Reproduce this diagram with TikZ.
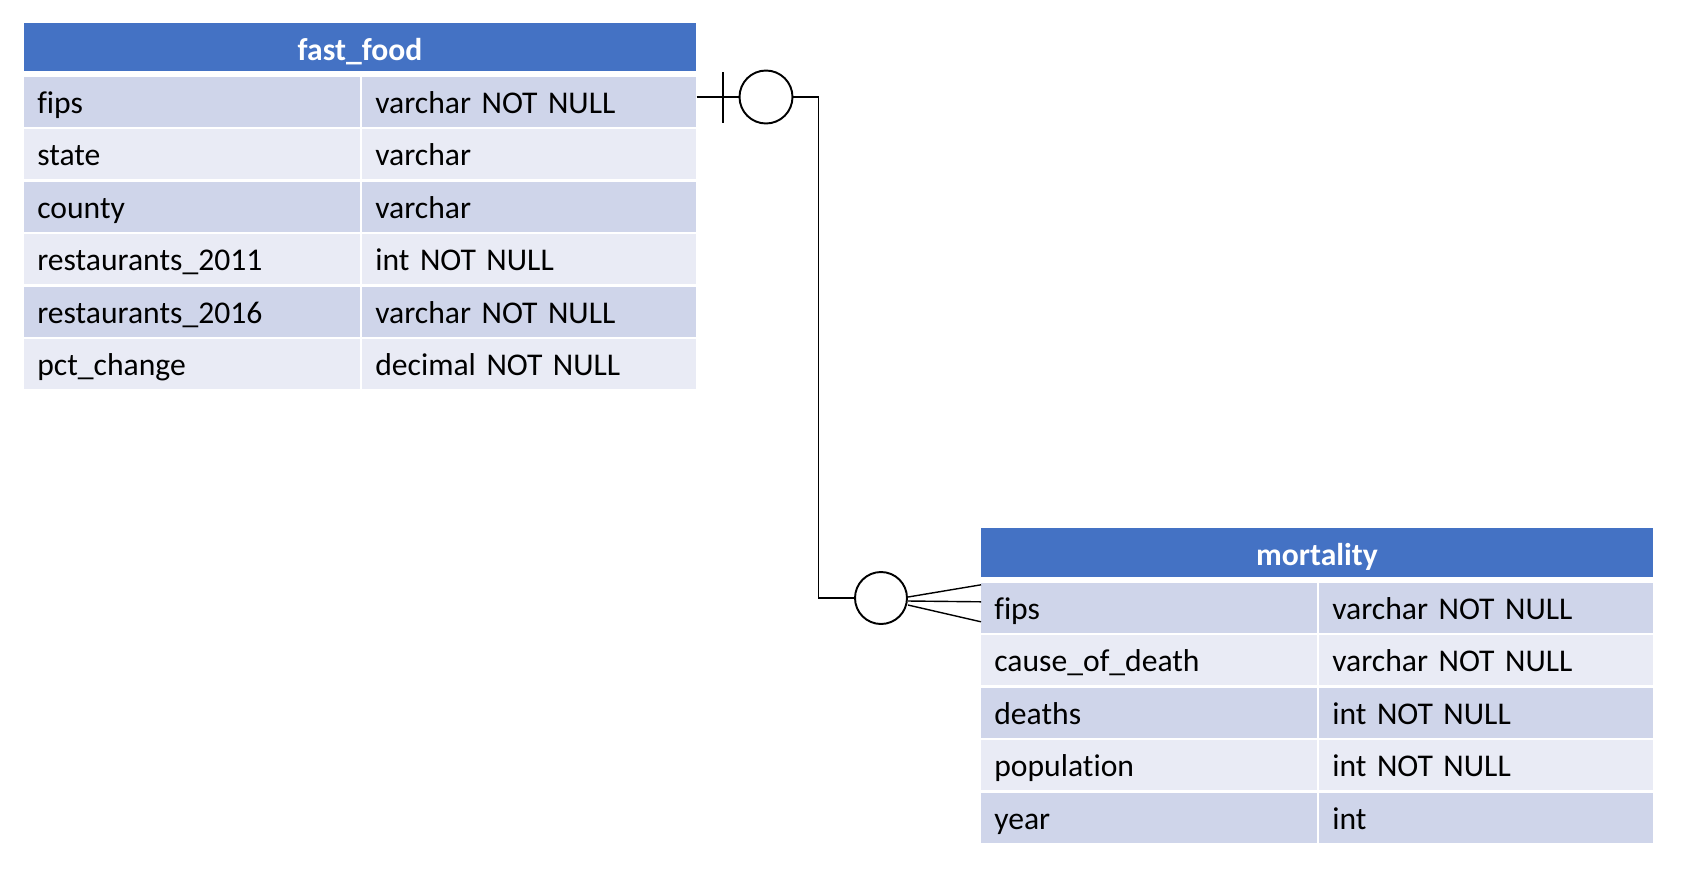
\documentclass[tikz,border=0pt]{standalone}
\usepackage{fontspec}
\setmainfont[Ligatures=CommonOff]{Carlito}
\usetikzlibrary{positioning, calc}

\definecolor{hdrblue}{HTML}{4472C4}
\definecolor{rowdark}{HTML}{CFD5EA}
\definecolor{rowlight}{HTML}{E9EBF5}

\begin{document}
\begin{tikzpicture}[
      x=0.02cm, y=-0.02cm,
      header/.style={rectangle, fill=hdrblue, text=white, inner sep=0pt, minimum width=13.44cm, minimum height=0.97cm, font=\fontsize{18}{22}\selectfont\bfseries, text height=18pt, text depth=3.2pt},
      cell/.style={rectangle, anchor=west, inner xsep=0.26cm, inner ysep=0pt, minimum height=1cm, align=left, font=\fontsize{18}{22}\selectfont, text height=16.8pt, text depth=3.6pt},
      namecell/.style={cell, text width=6.2cm},
      typecell/.style={cell, text width=6.16cm},
      erdcircle/.style={circle, draw, line width=1.1pt, fill=white, inner sep=0pt},
      link/.style={line width=0.8pt}
      ]
      \useasboundingbox (0,0) rectangle (1690,873);

      % fast_food table
      \node[header] (ffhead) at (360,47) {fast\_food};
      \foreach \name/\type/\shade [count=\i] in {fips/varchar NOT NULL/rowdark, state/varchar/rowlight, county/varchar/rowdark, restaurants\_2011/int NOT NULL/rowlight, restaurants\_2016/varchar NOT NULL/rowdark, pct\_change/decimal NOT NULL/rowlight} {
        \node[namecell, fill=\shade] (ffn\i) at (24,{101.5+(\i-1)*52.5}) {\name};
        \node[typecell, fill=\shade] (fft\i) at (362,{101.5+(\i-1)*52.5}) {\type};
      }

      % mortality table
      \node[header] (mohead) at (1317,552.5) {mortality};
      \foreach \name/\type/\shade [count=\i] in {fips/varchar NOT NULL/rowdark, cause\_of\_death/varchar NOT NULL/rowlight, deaths/int NOT NULL/rowdark, population/int NOT NULL/rowlight, year/int/rowdark} {
        \node[namecell, fill=\shade] (mon\i) at (981,{607.8+(\i-1)*52.5}) {\name};
        \node[typecell, fill=\shade] (mot\i) at (1319,{607.8+(\i-1)*52.5}) {\type};
      }

      % Relationship: one (optional) to many (optional)
      \node[erdcircle, minimum size=1.06cm] (ffcirc) at (766,97) {};
      \node[erdcircle, minimum size=1.04cm] (mocirc) at (881,598) {};
      \coordinate (fftick) at (723,97);

      \draw[link] (fft1.east |- ffcirc.west) -- (ffcirc.west);
      \draw[link] (fftick) ++(0,-25) -- ++(0,51);
      \draw[link] (ffcirc.east) -- ++(25,0) |- (mocirc.west);

      % crow's foot
      \draw[link] ($(mocirc.east)+(0,-1)$) -- ($(mon1.west)+(0,-23)$);
      \draw[link] ($(mocirc.east)+(0,3)$) -- ($(mon1.west)+(0,-6)$);
      \draw[link] ($(mocirc.east)+(0,7)$) -- ($(mon1.west)+(0,14)$);

   \end{tikzpicture}
\end{document}
